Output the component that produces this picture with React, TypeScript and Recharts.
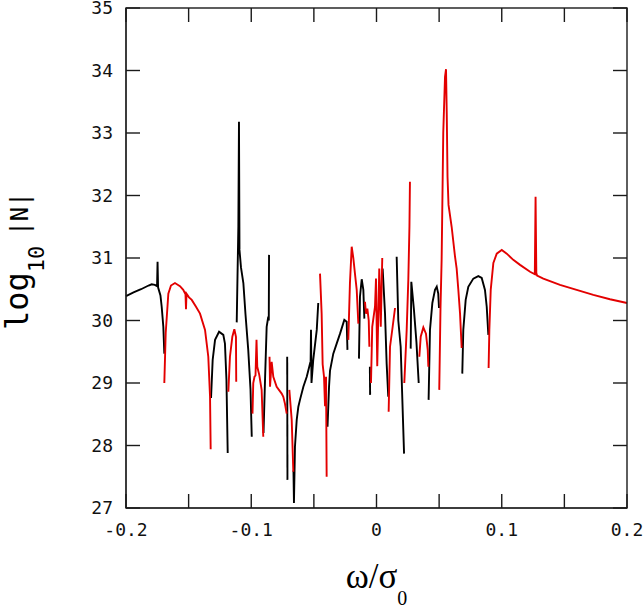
import { LineChart, Line, XAxis, YAxis } from "recharts";

// axis ticks
const xTicks = [-0.2, -0.15, -0.1, -0.05, 0, 0.05, 0.1, 0.15, 0.2];
const xLabels = [-0.2, -0.1, 0, 0.1, 0.2];
const yTicks = [27, 28, 29, 30, 31, 32, 33, 34, 35];

// spectrum pieces, [omega/sigma0, log10|N|], alternating black / red
const b1 = [[-0.2, 30.39], [-0.194, 30.45], [-0.188, 30.5], [-0.182, 30.56], [-0.1795, 30.58], [-0.177, 30.57], [-0.1752, 30.55], [-0.1748, 30.94], [-0.1744, 30.53], [-0.1725, 30.4], [-0.1715, 30.22], [-0.1702, 29.9], [-0.1694, 29.47]];
const r2 = [[-0.1694, 29.0], [-0.1683, 29.8], [-0.1662, 30.43], [-0.1641, 30.56], [-0.1609, 30.6], [-0.1569, 30.55], [-0.1543, 30.49], [-0.1525, 30.42], [-0.1521, 30.18], [-0.1517, 30.43], [-0.1497, 30.37], [-0.1475, 30.33], [-0.1441, 30.22], [-0.1409, 30.11], [-0.1369, 29.85], [-0.1343, 29.42], [-0.1329, 28.78], [-0.1324, 27.94]];
const b3 = [[-0.1321, 28.76], [-0.1308, 29.37], [-0.1289, 29.69], [-0.1257, 29.82], [-0.1223, 29.77], [-0.121, 29.63], [-0.1198, 29.05], [-0.1188, 27.88]];
const r4 = [[-0.1183, 28.86], [-0.117, 29.42], [-0.1151, 29.74], [-0.1135, 29.86], [-0.1122, 29.74], [-0.112, 29.02]];
const b5 = [[-0.1116, 29.97], [-0.1103, 31.5], [-0.1098, 33.18], [-0.1094, 31.13], [-0.1082, 30.85], [-0.1063, 30.6], [-0.1046, 30.1], [-0.1024, 29.53], [-0.1006, 28.9], [-0.0996, 28.14]];
const r6 = [[-0.099, 28.51], [-0.0984, 29.0], [-0.0974, 29.1], [-0.0966, 29.12], [-0.0958, 29.69], [-0.0952, 29.26], [-0.0936, 29.13], [-0.0917, 28.89], [-0.0904, 28.14]];
const b7 = [[-0.0902, 28.2], [-0.089, 29.05], [-0.0877, 29.9], [-0.0864, 30.06], [-0.086, 30.0], [-0.0858, 31.05]];
const r8 = [[-0.0854, 29.42], [-0.085, 28.94], [-0.0837, 29.34], [-0.0824, 29.1], [-0.0797, 28.94], [-0.0757, 28.83], [-0.0744, 28.78], [-0.0731, 28.67], [-0.0717, 28.51]];
const b9 = [[-0.0713, 29.42], [-0.0711, 27.45]];
const r10 = [[-0.0696, 28.89], [-0.0677, 28.41], [-0.0664, 27.58]];
const b11 = [[-0.0663, 27.6], [-0.0659, 27.08], [-0.0651, 27.98], [-0.0637, 28.41], [-0.0624, 28.62], [-0.0611, 28.73], [-0.0584, 28.94], [-0.0557, 29.1], [-0.0537, 29.26], [-0.0526, 29.35], [-0.0523, 29.85], [-0.0519, 29.0], [-0.0505, 29.37], [-0.0477, 29.85], [-0.0465, 30.28]];
const r12 = [[-0.0451, 30.75], [-0.0438, 30.11], [-0.043, 29.3], [-0.0419, 29.1], [-0.0411, 28.63], [-0.0403, 29.1], [-0.0398, 27.5]];
const b13 = [[-0.0391, 28.3], [-0.0379, 28.94], [-0.0371, 29.2], [-0.0345, 29.47], [-0.0318, 29.63], [-0.0291, 29.79], [-0.0257, 30.01], [-0.0238, 29.98], [-0.0232, 29.53]];
const r14 = [[-0.0225, 29.69], [-0.0212, 30.6], [-0.0198, 31.18], [-0.0185, 31.0], [-0.0172, 30.75], [-0.0158, 30.49], [-0.0145, 29.95]];
const b15 = [[-0.014, 29.39], [-0.0132, 30.38], [-0.0118, 30.66], [-0.0105, 30.49], [-0.0097, 30.03]];
const r16 = [[-0.0092, 30.3], [-0.0084, 30.11], [-0.0073, 30.19], [-0.0062, 30.0], [-0.0057, 29.58]];
const b17 = [[-0.0053, 29.26], [-0.0051, 28.81]];
const r18 = [[-0.0044, 29.0], [-0.0034, 29.9], [-0.0012, 30.22], [-0.0004, 30.67], [0.0006, 29.27], [0.0022, 30.83], [0.0034, 29.9], [0.0046, 31.0]];
const b19 = [[0.0049, 30.83], [0.0068, 30.11], [0.0081, 29.31], [0.0094, 28.78]];
const r20 = [[0.0097, 28.54], [0.0108, 29.58], [0.0129, 29.9], [0.0148, 30.2]];
const b21 = [[0.0161, 31.02], [0.0174, 30.0], [0.0193, 29.58], [0.0214, 28.25], [0.022, 27.87]];
const r22 = [[0.0222, 29.0], [0.0241, 29.85], [0.0254, 30.65], [0.0263, 31.5], [0.0267, 32.22]];
const b23 = [[0.0273, 29.55], [0.0278, 30.62], [0.0299, 30.17], [0.0319, 29.65], [0.0337, 29.0]];
const r24 = [[0.0342, 29.42], [0.0353, 29.74], [0.0374, 29.89], [0.0395, 29.79], [0.0409, 29.53], [0.0414, 29.26]];
const b25 = [[0.0416, 28.73], [0.0427, 29.85], [0.0446, 30.28], [0.0467, 30.49], [0.0481, 30.54], [0.0493, 30.43], [0.0499, 30.2]];
const r26 = [[0.0501, 28.89], [0.0511, 30.2], [0.052, 30.97], [0.0533, 33.0], [0.0547, 33.9], [0.0555, 34.02], [0.0561, 33.3], [0.0567, 32.3], [0.0575, 31.85], [0.06, 31.5], [0.0627, 31.02], [0.064, 30.83], [0.0653, 30.5], [0.0667, 30.11], [0.068, 29.56]];
const b27 = [[0.0685, 29.15], [0.0693, 29.85], [0.0712, 30.33], [0.0733, 30.54], [0.0773, 30.67], [0.0813, 30.71], [0.084, 30.68], [0.0866, 30.49], [0.088, 30.22], [0.0893, 29.77]];
const r28 = [[0.0895, 29.24], [0.0901, 29.85], [0.0912, 30.49], [0.0933, 30.92], [0.096, 31.07], [0.1, 31.13], [0.104, 31.07], [0.1092, 30.97], [0.1146, 30.89], [0.1226, 30.78], [0.1264, 30.74], [0.127, 31.98], [0.1276, 30.76], [0.1282, 30.72], [0.1332, 30.67], [0.1465, 30.57], [0.1598, 30.49], [0.1731, 30.41], [0.1864, 30.34], [0.2, 30.28]];

const X_MIN = -0.2;
const X_MAX = 0.2;
const Y_MIN = 27;
const Y_MAX = 35;

// plot box, from the chart size and margins below
const W = 643;
const H = 610;
const M = { top: 8, right: 16, bottom: 0, left: 0 };
const Y_AXIS_W = 126;
const X_AXIS_H = 102;
const PL = M.left + Y_AXIS_W;
const PT = M.top;
const PW = W - M.right - PL;
const PH = H - X_AXIS_H - PT;
const TICK = 14;

const FRAME = "#1a1a1a";
const MONO = "DejaVu Sans Mono";

const toRows = (seg: number[][]) => seg.map(([x, y]) => ({ x, y }));

const blackRows = [b1, b3, b5, b7, b9, b11, b13, b15, b17, b19, b21, b23, b25, b27].map(toRows);
const redRows = [r2, r4, r6, r8, r10, r12, r14, r16, r18, r20, r22, r24, r26, r28].map(toRows);

// positions for the frame ticks (same linear mapping as the axes)
const px = (v: number) => PL + ((v - X_MIN) / (X_MAX - X_MIN)) * PW;
const py = (v: number) => PT + ((Y_MAX - v) / (Y_MAX - Y_MIN)) * PH;

const isLabel = (v: number) => xLabels.some((l) => Math.abs(l - v) < 1e-9);

const BottomTick = (p: any) => {
  if (!isLabel(p.payload.value)) return <g />;
  return (
    <text x={p.x} y={p.y + 12} textAnchor="middle" fontFamily={MONO} fontSize={18} fill="#111">
      {String(p.payload.value)}
    </text>
  );
};

export default function App() {
  return (
    <div style={{ position: "absolute", left: 0, top: 0, width: W, height: H }}>
      <LineChart width={W} height={H} margin={M}>
        <XAxis
          xAxisId="b"
          type="number"
          dataKey="x"
          domain={[X_MIN, X_MAX]}
          ticks={xTicks}
          interval={0}
          height={X_AXIS_H}
          tickSize={0}
          tickMargin={16}
          tickLine={false}
          tick={<BottomTick />}
          stroke={FRAME}
        />
        <YAxis
          yAxisId="l"
          type="number"
          domain={[Y_MIN, Y_MAX]}
          ticks={yTicks}
          interval={0}
          width={Y_AXIS_W}
          tickSize={0}
          tickMargin={13}
          tickLine={false}
          tick={{ fontFamily: MONO, fontSize: 18, fill: "#111" }}
          stroke={FRAME}
        />
        {blackRows.map((rows, i) => (
          <Line
            key={"k" + i}
            xAxisId="b"
            yAxisId="l"
            data={rows}
            dataKey="y"
            stroke="#000"
            strokeWidth={1.9}
            dot={false}
            isAnimationActive={false}
          />
        ))}
        {redRows.map((rows, i) => (
          <Line
            key={"r" + i}
            xAxisId="b"
            yAxisId="l"
            data={rows}
            dataKey="y"
            stroke="#e30000"
            strokeWidth={1.9}
            dot={false}
            isAnimationActive={false}
          />
        ))}
      </LineChart>
      {/* frame with inward ticks, and axis titles */}
      <svg width={W} height={H} style={{ position: "absolute", left: 0, top: 0, pointerEvents: "none" }}>
        <g stroke={FRAME} strokeWidth={1.4}>
          <rect x={PL} y={PT} width={PW} height={PH} fill="none" />
          {xTicks.map((v) => (
            <g key={"x" + v}>
              <line x1={px(v)} y1={PT + PH} x2={px(v)} y2={PT + PH - TICK} />
              <line x1={px(v)} y1={PT} x2={px(v)} y2={PT + TICK} />
            </g>
          ))}
          {yTicks.map((v) => (
            <g key={"y" + v}>
              <line x1={PL} y1={py(v)} x2={PL + TICK} y2={py(v)} />
              <line x1={PL + PW} y1={py(v)} x2={PL + PW - TICK} y2={py(v)} />
            </g>
          ))}
        </g>
        <text x={PL + PW / 2} y={588} textAnchor="middle" fontFamily="Liberation Serif" fontSize={35} fill="#000">
          ω/σ
          <tspan fontSize={20} dy={17}>0</tspan>
        </text>
        <g transform="translate(28,330) rotate(-90)">
          <text x={0} y={0} fontFamily={MONO} fill="#000">
            <tspan fontSize={32}>log</tspan>
            <tspan fontSize={22} dy={16}>10</tspan>
            <tspan fontSize={24} dy={-16} dx={10}>|N|</tspan>
          </text>
        </g>
      </svg>
    </div>
  );
}
